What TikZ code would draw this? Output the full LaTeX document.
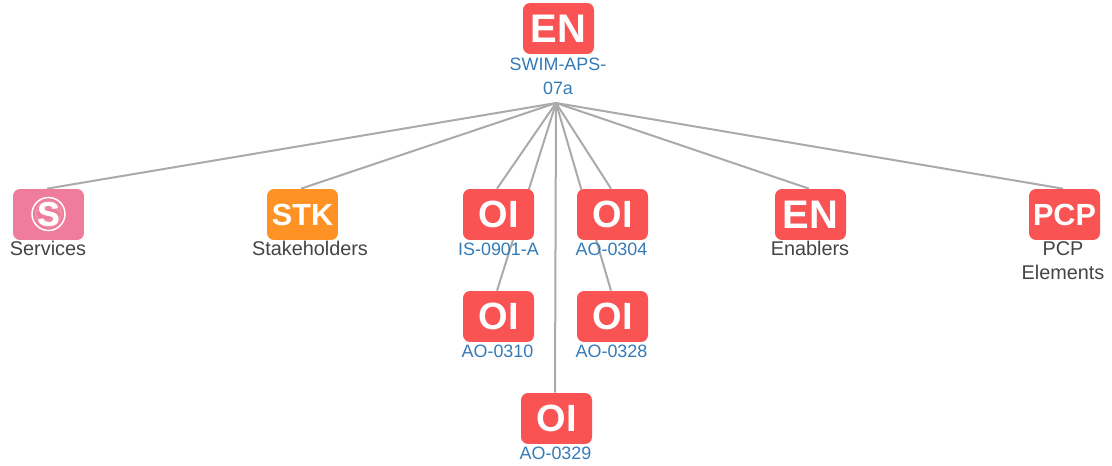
\documentclass[tikz,border=0pt]{standalone}
\usepackage{fontspec}
\setmainfont{Liberation Sans}
\newfontfamily\iconfont[BoldFeatures={FakeBold=1.6}]{Liberation Sans}
\usetikzlibrary{backgrounds}
\definecolor{boxred}{RGB}{250,83,83}
\definecolor{boxorange}{RGB}{255,146,36}
\definecolor{boxpink}{RGB}{240,124,156}
\definecolor{linkblue}{RGB}{51,122,183}
\definecolor{labelgrey}{RGB}{68,68,68}
\definecolor{edgegrey}{RGB}{170,170,170}
\tikzset{
  iconbox/.style={fill=boxred,rounded corners=0.14cm,minimum width=1.42cm,minimum height=1.02cm,inner sep=0pt,text=white,font=\fontsize{22.7}{22.7}\selectfont\bfseries},
  oibox/.style={iconbox,font=\fontsize{21.6}{21.6}\selectfont\bfseries},
  smallicon/.style={iconbox,font=\fontsize{17.4}{17.4}\selectfont\bfseries},
  linklabel/.style={text=linkblue,font=\fontsize{10.2}{13.8}\selectfont,align=center,inner sep=0pt},
  greylabel/.style={text=labelgrey,font=\fontsize{11.3}{13.8}\selectfont,align=center,inner sep=0pt},
  linkline/.style={draw=edgegrey,line width=0.04cm}
}
\begin{document}
\begin{tikzpicture}[x=0.02cm,y=-0.02cm]
                \useasboundingbox (0,0) rectangle (1112,466);
                \coordinate (hub) at (556,103);
                \node[iconbox] (root) at (558.5,28.5) {EN};
                \node[iconbox,fill=boxpink] (services) at (48.5,214.5) {};
                \node[smallicon,fill=boxorange] (stk) at (302.5,214.5) {STK};
                \node[oibox] (is0901) at (498.5,214.5) {OI};
                \node[oibox] (ao0304) at (612.5,214.5) {OI};
                \node[iconbox] (enablers) at (810.5,214.5) {EN};
                \node[smallicon] (pcp) at (1064.5,214.5) {PCP};
                \node[oibox] (ao0310) at (498.5,316.5) {OI};
                \node[oibox] (ao0328) at (612.5,316.5) {OI};
                \node[oibox] (ao0329) at (556.5,418.5) {OI};
                \begin{scope}[on background layer]
                    \foreach \target in {services,stk,is0901,ao0304,enablers,pcp,ao0310,ao0328,ao0329}
                        \draw[linkline] (hub) -- ([xshift=-0.03cm]\target.north);
                \end{scope}
                \node[linklabel] (rootlabel) at (558,76.5) {SWIM-APS-\\07a};
                \node[greylabel] (serviceslabel) at (48,248.5) {Services};
                \node[greylabel] (stklabel) at (310,248.5) {Stakeholders};
                \node[linklabel] (is0901label) at (498.5,249) {IS-0901-A};
                \node[linklabel] (ao0304label) at (611.5,249) {AO-0304};
                \node[greylabel] (enablerslabel) at (810,248.5) {Enablers};
                \node[greylabel] (pcplabel) at (1063,260.5) {PCP\\Elements};
                \node[linklabel] (ao0310label) at (497.5,351) {AO-0310};
                \node[linklabel] (ao0328label) at (611.5,351) {AO-0328};
                \node[linklabel] (ao0329label) at (555.5,453) {AO-0329};
                % services icon
                \draw[white,line width=0.03cm] (48.5,214) circle (16.5);
                \draw[white,opacity=0.3,line width=0.01cm] (48.5,214) circle (13) (48.5,214) ellipse (13 and 6);
                \node[text=white,inner sep=0pt,font=\iconfont\fontsize{19}{19}\selectfont\bfseries] (servicesicon) at (48.5,214) {S};
\end{tikzpicture}
\end{document}
